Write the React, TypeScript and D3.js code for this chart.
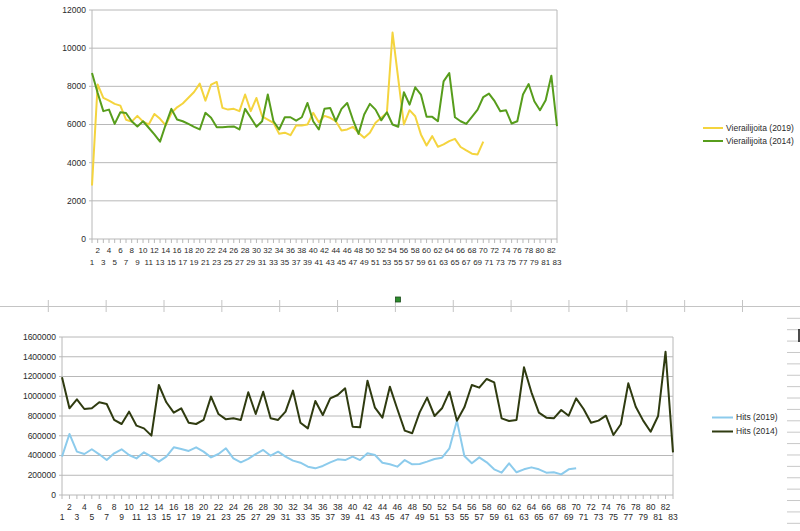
import React from "react";
import * as d3 from "d3";

const categories: string[] = Array.from({ length: 83 }, (_, i) => String(i + 1));

const visitors2019 = [
  2800, 8100, 7400, 7250, 7080, 6990, 6250, 6150, 6450, 6150,
  6000, 6550, 6300, 5950, 6600, 6900, 7100, 7400, 7700, 8140,
  7250, 8090, 8230, 6870, 6780, 6820, 6700, 7570, 6700, 7390,
  6430, 6260, 6090, 5510, 5570, 5440, 5950, 5950, 6000, 6610,
  6120, 6450, 6350, 6170, 5690, 5740, 5880, 5570, 5300, 5570,
  6090, 6350, 6600, 10820, 8400, 6000, 6750, 6430, 5480, 4900,
  5390, 4830, 4960, 5130, 5250, 4820, 4640, 4470, 4430, 5100,
];

const visitors2014 = [
  8700, 7650, 6700, 6780, 6030, 6640, 6600, 6170, 5900, 6170,
  5830, 5480, 5100, 6000, 6820, 6260, 6170, 6030, 5880, 5740,
  6610, 6350, 5860, 5860, 5880, 5900, 5740, 6820, 6350, 5880,
  6170, 7570, 6170, 5740, 6380, 6380, 6200, 6380, 7130, 6170,
  5740, 6820, 6870, 6170, 6820, 7130, 6260, 5510, 6520, 7080,
  6780, 6220, 6640, 6000, 5880, 7690, 7040, 7950, 7570, 6400,
  6400, 6170, 8260, 8700, 6380, 6170, 6030, 6400, 6780, 7440,
  7620, 7220, 6700, 6750, 6050, 6170, 7570, 8120, 7220, 6750,
  7270, 8560, 5910,
];

const hits2019 = [
  388000, 618000, 439000, 415000, 463000, 412000, 354000, 422000, 463000, 405000,
  371000, 432000, 388000, 338000, 388000, 483000, 466000, 446000, 483000, 439000,
  381000, 415000, 473000, 371000, 331000, 365000, 415000, 456000, 398000, 439000,
  388000, 348000, 327000, 287000, 270000, 294000, 331000, 361000, 354000, 388000,
  354000, 422000, 405000, 327000, 311000, 287000, 354000, 311000, 314000, 338000,
  365000, 378000, 473000, 753000, 395000, 321000, 381000, 331000, 260000, 226000,
  321000, 230000, 260000, 280000, 260000, 226000, 230000, 209000, 260000, 270000,
];

const hits2014 = [
  1192000, 878000, 969000, 871000, 878000, 939000, 922000, 760000, 719000, 844000,
  702000, 675000, 601000, 1114000, 939000, 834000, 878000, 732000, 719000, 760000,
  996000, 820000, 766000, 777000, 760000, 1040000, 820000, 1046000, 777000, 760000,
  844000, 1057000, 732000, 675000, 952000, 810000, 979000, 1013000, 1080000, 692000,
  685000, 1158000, 884000, 783000, 1097000, 871000, 652000, 625000, 837000, 986000,
  800000, 878000, 1046000, 753000, 888000, 1114000, 1087000, 1175000, 1141000, 776000,
  749000, 760000, 1293000, 1040000, 834000, 783000, 776000, 861000, 803000, 979000,
  871000, 732000, 753000, 803000, 608000, 716000, 1131000, 894000, 753000, 641000,
  800000, 1451000, 432000,
];

const topTicks = [0, 2000, 4000, 6000, 8000, 10000, 12000];
const bottomTicks = [0, 200000, 400000, 600000, 800000, 1000000, 1200000, 1400000, 1600000];

const topSeries = [
  { name: "Vierailijoita (2019)", values: visitors2019, color: "#f4d43e" },
  { name: "Vierailijoita (2014)", values: visitors2014, color: "#579d1c" },
];
const bottomSeries = [
  { name: "Hits (2019)", values: hits2019, color: "#8ccbec" },
  { name: "Hits  (2014)", values: hits2014, color: "#2f3b10" },
];

const FONT = "'Liberation Sans', Arial, sans-serif";
const GRID = "#b8b8b8";
const TEXT = "#2a2a2a";

type ChartProps = {
  left: number; right: number; top: number; bottom: number;
  ticks: number[]; max: number;
  series: { name: string; values: number[]; color: string }[];
  yLabelSize: number; xLabelSize: number;
  evenDy: number; oddDy: number;
  legendX: number; legendY: number; legendGap: number; legendLen: number;
};

function LineChart(p: ChartProps) {
  const x = d3.scalePoint<string>().domain(categories).range([p.left, p.right]);
  const y = d3.scaleLinear().domain([0, p.max]).range([p.bottom, p.top]);
  const line = d3.line<number>()
    .x((_, i) => x(categories[i]) as number)
    .y((d) => y(d));
  return (
    <g>
      {p.ticks.map((t) => (
        <g key={t}>
          <line x1={p.left - 3} x2={p.right} y1={y(t)} y2={y(t)} stroke={GRID} strokeWidth={1} />
          <text x={p.left - 6} y={y(t)} dy="0.35em" textAnchor="end" fontSize={p.yLabelSize} fill={TEXT} fontFamily={FONT}>{t}</text>
        </g>
      ))}
      <line x1={p.left} x2={p.left} y1={p.top} y2={p.bottom} stroke={GRID} />
      <line x1={p.right} x2={p.right} y1={p.top} y2={p.bottom} stroke={GRID} />
      {categories.map((c, i) => (
        <g key={c}>
          <line x1={x(c)} x2={x(c)} y1={p.bottom} y2={p.bottom + 4} stroke={GRID} />
          <text x={x(c)} y={p.bottom + (i % 2 === 1 ? p.evenDy : p.oddDy)} textAnchor="middle" fontSize={p.xLabelSize} fill={TEXT} fontFamily={FONT}>{c}</text>
        </g>
      ))}
      {p.series.map((s) => (
        <path key={s.name} d={line(s.values) || ""} fill="none" stroke={s.color} strokeWidth={2} strokeLinejoin="round" />
      ))}
      {p.series.map((s, i) => (
        <g key={s.name} transform={`translate(${p.legendX},${p.legendY + i * p.legendGap})`}>
          <line x1={0} x2={p.legendLen} y1={0} y2={0} stroke={s.color} strokeWidth={2} />
          <text x={p.legendLen + 3} y={0} dy="0.35em" fontSize={8.5} fill={TEXT} fontFamily={FONT}>{s.name}</text>
        </g>
      ))}
    </g>
  );
}

export default function App() {
  const rulerTicks = d3.range(0, 13).map((k) => 48.3 + k * 57.85);
  const sideTicks = d3.range(0, 19).map((k) => 318.3 + k * 11.39);
  return (
    <svg width={800} height={531} style={{ position: "absolute", left: 0, top: 0, background: "#fff" }}>
      <rect x={0} y={0} width={800} height={531} fill="#fff" />
      <LineChart
        left={92} right={557} top={10} bottom={239}
        ticks={topTicks} max={12000} series={topSeries}
        yLabelSize={8.5} xLabelSize={8}
        evenDy={14} oddDy={26}
        legendX={703} legendY={128} legendGap={13} legendLen={20}
      />
      <line x1={0} x2={800} y1={306.5} y2={306.5} stroke="#c4c4c4" />
      {rulerTicks.map((t) => (
        <line key={t} x1={t} x2={t} y1={300} y2={312} stroke="#c4c4c4" />
      ))}
      <rect x={395.5} y={297} width={5} height={5} fill="#2c8c2c" stroke="#1d4d1d" strokeWidth={0.8} />
      {sideTicks.map((t) => (
        <line key={t} x1={787} x2={800} y1={t} y2={t} stroke="#c8c8c8" />
      ))}
      <line x1={799} x2={799} y1={329} y2={342} stroke="#111" strokeWidth={1.5} />
      <LineChart
        left={62} right={673} top={337} bottom={495}
        ticks={bottomTicks} max={1600000} series={bottomSeries}
        yLabelSize={8.5} xLabelSize={8.5}
        evenDy={15} oddDy={25}
        legendX={712} legendY={417.5} legendGap={14} legendLen={21}
      />
    </svg>
  );
}
